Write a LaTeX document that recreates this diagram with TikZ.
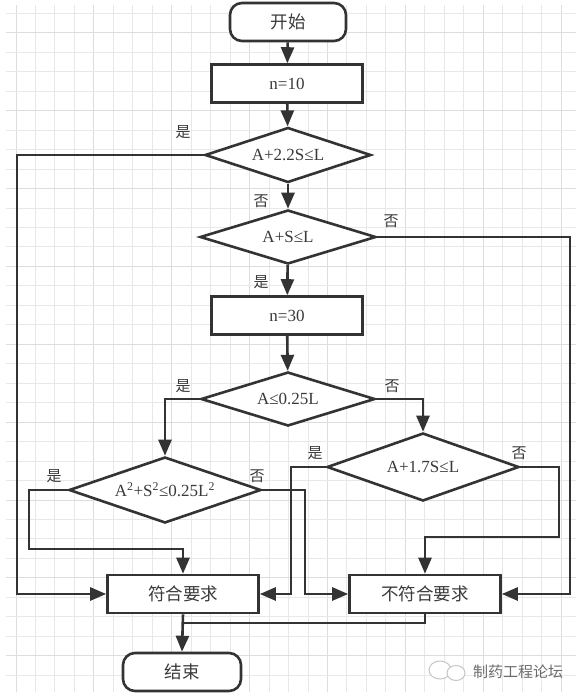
\documentclass[tikz,border=0pt]{standalone}
\usepackage{fontspec}
\setmainfont{Liberation Serif}
\newfontfamily\cjk{Noto Sans CJK SC}
\usetikzlibrary{shapes.geometric,arrows.meta,calc}
\definecolor{ink}{HTML}{333333}
\definecolor{txt}{HTML}{3A3A3A}
\definecolor{gridc}{HTML}{E8E8E8}
\definecolor{gridm}{HTML}{DDDDDD}
\tikzset{
  base/.style={draw=ink, line width=2.6pt, fill=white, inner sep=0pt, text=txt, font=\fontsize{17}{19}\selectfont},
  term/.style={base, rounded corners=12pt, minimum width=116pt, minimum height=38pt},
  proc/.style={base, minimum width=151pt, minimum height=38pt},
  dec/.style={base, diamond, aspect=2.8},
  cn/.style={font=\fontsize{17.5}{19}\selectfont\cjk},
  lbl/.style={text=txt, font=\fontsize{15}{17}\selectfont\cjk, inner sep=0pt},
  conn/.style={draw=ink, line width=2.6pt},
  arr/.style={conn, -{Triangle[length=16pt,width=13pt]}}
}
\begin{document}
\begin{tikzpicture}[x=1pt,y=-1pt]
\useasboundingbox (0,0) rectangle (581,697);
\fill[white] (0,0) rectangle (581,697);
% grid
\foreach \i in {0,...,28} {
  \pgfmathsetmacro{\gx}{16+19.47*\i}
  \pgfmathtruncatemacro{\m}{mod(\i,4)}
  \ifnum\m=0 \draw[gridm, line width=1pt] (\gx,5) -- (\gx,692); \else \draw[gridc, line width=1pt] (\gx,5) -- (\gx,692); \fi
}
\foreach \j in {0,...,34} {
  \pgfmathsetmacro{\gy}{13.3+19.47*\j}
  \pgfmathtruncatemacro{\m}{mod(\j,4)}
  \ifnum\m=1 \draw[gridm, line width=1pt] (6,\gy) -- (576,\gy); \else \draw[gridc, line width=1pt] (6,\gy) -- (576,\gy); \fi
}
% nodes
\node[term, cn] (start) at (288,22) {开始};
\node[proc] (n10) at (287,83.5) {n=10};
\node[dec, minimum width=166pt, minimum height=55pt] (d1) at (288,155) {A+2.2S≤L};
\node[dec, minimum width=176pt, minimum height=54pt] (d2) at (288,237) {A+S≤L};
\node[proc] (n30) at (287,315.5) {n=30};
\node[dec, minimum width=174pt, minimum height=54pt] (d3) at (288,399) {A≤0.25L};
\node[dec, minimum width=192pt, minimum height=66pt] (d4) at (165,490) {A\textsuperscript{2}+S\textsuperscript{2}≤0.25L\textsuperscript{2}};
\node[dec, minimum width=192pt, minimum height=68pt] (d5) at (423,467) {A+1.7S≤L};
\node[proc, cn] (ok) at (183,594) {符合要求};
\node[proc, cn] (nok) at (425,594) {不符合要求};
\node[term, cn, minimum width=118pt] (end) at (182,672) {结束};
% connectors
\draw[arr] (start) -- (n10);
\draw[arr] (n10) -- (d1);
\draw[arr] (d1) -- (d2);
\draw[arr] (d2) -- (n30);
\draw[arr] (n30) -- (d3);
\draw[arr] (d1.west) -- (17,155) |- (ok.west);
\draw[arr] (d2.east) -- (570,237) |- (nok.east);
\draw[arr] (d3.west) -| (d4.north);
\draw[arr] (d3.east) -| (d5.north);
\draw[arr] (d4.west) -- (29,490) -- (29,549) -- (183,549) -- (ok.north);
\draw[arr] (d4.east) -- (305,490) |- (nok.west);
\draw[arr] (d5.west) -- (291,467) |- (ok.east);
\draw[arr] (d5.east) -- (559,467) -- (559,537) -- (425,537) -- (nok.north);
\coordinate (join) at (183,623);
\draw[conn] (nok.south) |- (join);
\draw[arr] (ok.south) -- (end.north);
% labels
\node[lbl] (y1) at (183,132) {是};
\node[lbl] (n1) at (261,201) {否};
\node[lbl] (n2) at (391,221) {否};
\node[lbl] (y2) at (261,282) {是};
\node[lbl] (y3) at (183,386) {是};
\node[lbl] (n3) at (392,386) {否};
\node[lbl] (y4) at (54,476) {是};
\node[lbl] (n4) at (257,476) {否};
\node[lbl] (y5) at (315,453) {是};
\node[lbl] (n5) at (519,453) {否};
% watermark
\draw[gray!45, line width=1pt, fill=white] (440,670) ellipse (11pt and 9pt);
\draw[gray!45, line width=1pt, fill=white] (456,673) ellipse (9pt and 7.5pt);
\node[text=gray!85!black, font=\fontsize{15}{17}\selectfont\cjk, inner sep=0pt] (wm) at (518,672) {制药工程论坛};
\end{tikzpicture}
\end{document}
